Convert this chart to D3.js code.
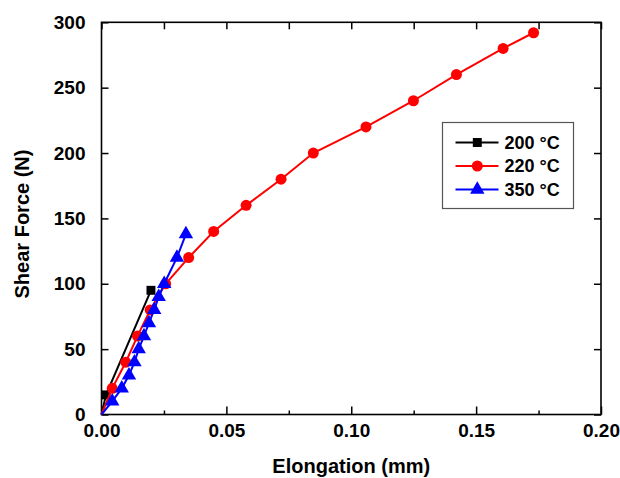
<!DOCTYPE html>
<html>
<head>
<meta charset="utf-8">
<script src="https://cdn.jsdelivr.net/npm/d3@7.9.0/dist/d3.min.js"></script>
<style>
  body { margin: 0; background: #fff; }
  svg text { font-family: "Liberation Sans", Arial, sans-serif; font-weight: bold; fill: #000; }
</style>
</head>
<body>
<svg id="chart" width="620" height="478"></svg>
<script>
// series data
const x200 = [0, 0.0018, 0.0198];
const y200 = [0, 15, 95];

const x220 = [0, 0.0043, 0.0097, 0.0144, 0.0195, 0.0257, 0.0349, 0.0449, 0.0579, 0.0719, 0.0848, 0.1059, 0.1249, 0.1421, 0.1608, 0.173];
const y220 = [0, 20, 40, 60, 80, 100, 120, 140, 160, 180, 200, 220, 240, 260, 280, 292];

const x350 = [0, 0.0043, 0.0081, 0.011, 0.0132, 0.0149, 0.017, 0.019, 0.0211, 0.0229, 0.0251, 0.0302, 0.0338];
const y350 = [0, 10, 20, 30, 40, 50, 60, 70, 80, 90, 100, 120, 138];

const xTicks = [0, 0.05, 0.10, 0.15, 0.20];
const xMinor = [0.025, 0.075, 0.125, 0.175];
const yTicks = [0, 50, 100, 150, 200, 250, 300];

const seriesNames = ['200 °C', '220 °C', '350 °C'];
const seriesColors = ['#000000', '#ff0000', '#0000ff'];
const seriesShapes = [d3.symbolSquare, d3.symbolCircle, d3.symbolTriangle];
const seriesSizes = [80, 95, 90];

const series = [
  x200.map((x, i) => [x, y200[i]]),
  x220.map((x, i) => [x, y220[i]]),
  x350.map((x, i) => [x, y350[i]])
];

const plotL = 101.5, plotR = 601, plotT = 22.3, plotB = 414.5;
const svg = d3.select('#chart');

let x = d3.scaleLinear().domain([0, 0.2]).range([plotL, plotR]);
let y = d3.scaleLinear().domain([0, 300]).range([plotB, plotT]);

// axes (ticks point inward)
const fmtX = d3.format('.2f');
const gBottom = svg.append('g').attr('transform', `translate(0,${plotB})`)
  .call(d3.axisBottom(x).tickValues(xTicks).tickSize(-8).tickPadding(12).tickFormat(fmtX));
svg.append('g').attr('transform', `translate(0,${plotB})`)
  .call(d3.axisBottom(x).tickValues(xMinor).tickSize(-4).tickFormat(''));
svg.append('g').attr('transform', `translate(0,${plotT})`)
  .call(d3.axisTop(x).tickValues(xTicks.concat(xMinor)).tickSize(-7).tickFormat(''));
const gLeft = svg.append('g').attr('transform', `translate(${plotL},0)`)
  .call(d3.axisLeft(y).tickValues(yTicks).tickSize(-7).tickPadding(16));
svg.append('g').attr('transform', `translate(${plotR},0)`)
  .call(d3.axisRight(y).tickValues(yTicks).tickSize(-7).tickFormat(''));

svg.selectAll('.domain').remove();
svg.selectAll('.tick line').attr('stroke', '#000').attr('stroke-width', 1.5);
gBottom.selectAll('text').attr('font-size', 19).attr('dy', '0.55em');
gLeft.selectAll('text').attr('font-size', 19);

svg.append('rect')
  .attr('x', plotL).attr('y', plotT)
  .attr('width', plotR - plotL).attr('height', plotB - plotT)
  .attr('fill', 'none').attr('stroke', '#000').attr('stroke-width', 1.6);

// lines and markers
let line = d3.line().x(d => x(d[0])).y(d => y(d[1]));
series.forEach((pts, idx) => {
  svg.append('path').attr('d', line(pts))
    .attr('fill', 'none').attr('stroke', seriesColors[idx]).attr('stroke-width', 2);
  svg.append('g').selectAll('path').data(pts.slice(1)).join('path')
    .attr('transform', d => `translate(${x(d[0])},${y(d[1])})`)
    .attr('d', d3.symbol().type(seriesShapes[idx]).size(seriesSizes[idx]))
    .attr('fill', seriesColors[idx]);
});

// axis titles
svg.append('text').attr('x', (plotL + plotR) / 2).attr('y', 473)
  .attr('text-anchor', 'middle').attr('font-size', 20).text('Elongation (mm)');
svg.append('text').attr('transform', 'translate(22,224) rotate(-90)')
  .attr('text-anchor', 'middle').attr('dominant-baseline', 'central')
  .attr('font-size', 20).text('Shear Force (N)');

// legend
const legend = svg.append('g');
legend.append('rect').attr('x', 442.5).attr('y', 122.5).attr('width', 131).attr('height', 86)
  .attr('fill', '#fff').attr('stroke', '#555').attr('stroke-width', 1.2);
seriesNames.forEach((name, idx) => {
  const ly = 142.5 + idx * 23.5;
  legend.append('line').attr('x1', 455.5).attr('x2', 498.5).attr('y1', ly).attr('y2', ly)
    .attr('stroke', seriesColors[idx]).attr('stroke-width', 2);
  legend.append('path').attr('transform', `translate(477.3,${ly})`)
    .attr('d', d3.symbol().type(seriesShapes[idx]).size(seriesSizes[idx]))
    .attr('fill', seriesColors[idx]);
  legend.append('text').attr('x', 504.5).attr('y', ly).attr('dy', '0.36em')
    .attr('font-size', 18).text(name);
});
</script>
</body>
</html>
